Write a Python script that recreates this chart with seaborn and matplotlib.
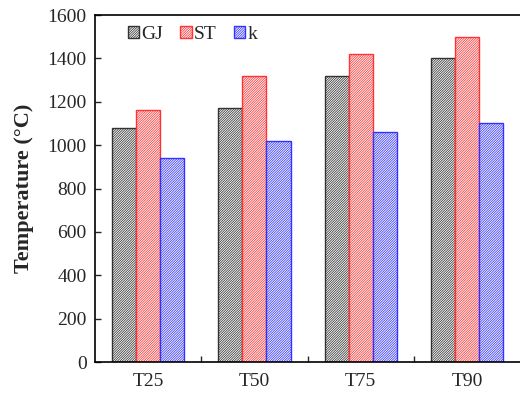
import numpy as np
import pandas as pd
import seaborn as sns
import matplotlib.pyplot as plt
from matplotlib.ticker import FixedLocator
from matplotlib.patches import Patch

sns.set_style("ticks")
plt.rcParams["font.family"] = ["Liberation Serif", "DejaVu Serif"]
plt.rcParams["hatch.linewidth"] = 0.55

categories = ["T25", "T50", "T75", "T90"]
series = ["GJ", "ST", "k"]
gj = [1080, 1170, 1320, 1400]
st = [1160, 1320, 1420, 1500]
k = [940, 1020, 1060, 1100]
edge_colors = {"GJ": "#333333", "ST": "#ff3333", "k": "#3333ff"}
HATCH = "/" * 14

df = pd.DataFrame({
    "cat": categories * 3,
    "series": ["GJ"] * 4 + ["ST"] * 4 + ["k"] * 4,
    "val": gj + st + k,
})

fig = plt.figure(figsize=(5.2, 3.94), dpi=100)
ax = fig.add_axes([0.1827, 0.0812, 0.8173, 0.8807])

sns.barplot(data=df, x="cat", y="val", hue="series", order=categories,
            hue_order=series, width=0.68, ax=ax, legend=False)

for i, s in enumerate(series):
    for p in ax.patches[i * 4:(i + 1) * 4]:
        p.set_facecolor("white")
        p.set_edgecolor(edge_colors[s])
        p.set_hatch(HATCH)
        p.set_linewidth(1.0)

ax.set_xlim(-0.5, 3.5)
ax.set_ylim(0, 1600)
ax.set_yticks(range(0, 1601, 200))
ax.set_xlabel("")
ax.set_ylabel("Temperature (\u00b0C)", fontsize=16, fontweight="bold", labelpad=10)
ax.tick_params(axis="y", direction="in", length=4, labelsize=14, width=1, pad=6)
ax.tick_params(axis="x", which="major", length=0, labelsize=14, pad=8)
ax.xaxis.set_minor_locator(FixedLocator([0.5, 1.5, 2.5]))
ax.tick_params(axis="x", which="minor", direction="in", length=4, width=1)
for side in ["left", "bottom", "top"]:
    ax.spines[side].set_linewidth(1.2)
    ax.spines[side].set_color("black")
ax.spines["right"].set_visible(False)

handles = [Patch(facecolor="white", edgecolor=edge_colors[s], hatch=HATCH, label=s)
           for s in series]
ax.legend(handles=handles, loc="upper left", ncol=3, frameon=False, fontsize=14,
          handlelength=0.57, handleheight=0.57, handletextpad=0.12, columnspacing=0.9,
          bbox_to_anchor=(0.036, 1.02))

fig.savefig("out.png", dpi=100)
